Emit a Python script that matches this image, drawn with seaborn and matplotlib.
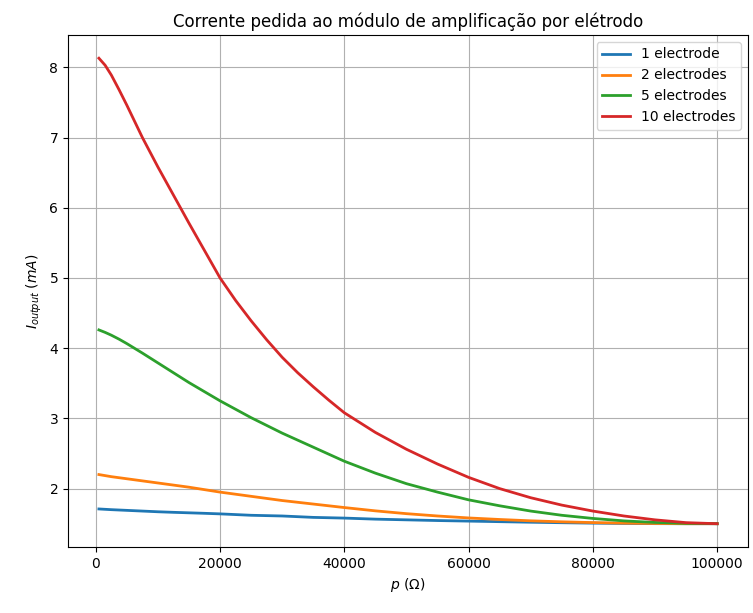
import matplotlib
matplotlib.use("Agg")
import matplotlib.pyplot as plt
import seaborn as sns
import pandas as pd

# Load resistance p (ohm)
p = [500, 1500, 2500, 3750, 5000, 7500, 10000, 12500, 15000, 17500, 20000, 22500, 25000,
     27500, 30000, 32500, 35000, 37500, 40000, 45000, 50000, 55000, 60000,
     65000, 70000, 75000, 80000, 85000, 90000, 95000, 100000]

# Output current (mA) per number of electrodes
i_1 = [1.71, 1.705, 1.70, 1.695, 1.69, 1.68, 1.67, 1.662, 1.655, 1.648, 1.64, 1.63, 1.62,
       1.615, 1.61, 1.60, 1.59, 1.585, 1.58, 1.565, 1.555, 1.545, 1.537,
       1.529, 1.521, 1.514, 1.508, 1.504, 1.501, 1.50, 1.50]
i_2 = [2.20, 2.185, 2.17, 2.155, 2.14, 2.11, 2.08, 2.05, 2.02, 1.985, 1.95, 1.92, 1.89,
       1.86, 1.83, 1.805, 1.78, 1.755, 1.73, 1.683, 1.643, 1.61, 1.582,
       1.56, 1.541, 1.527, 1.516, 1.508, 1.503, 1.50, 1.50]
i_5 = [4.26, 4.225, 4.185, 4.128, 4.065, 3.93, 3.79, 3.65, 3.51, 3.38, 3.25, 3.13, 3.01,
       2.90, 2.79, 2.69, 2.59, 2.49, 2.39, 2.22, 2.07, 1.95, 1.84,
       1.755, 1.68, 1.62, 1.575, 1.54, 1.518, 1.505, 1.50]
i_10 = [8.13, 8.03, 7.89, 7.68, 7.46, 7.00, 6.58, 6.18, 5.78, 5.39, 5.00, 4.68, 4.39,
        4.12, 3.87, 3.65, 3.45, 3.26, 3.08, 2.80, 2.56, 2.35, 2.16,
        2.00, 1.87, 1.765, 1.68, 1.61, 1.555, 1.515, 1.50]

labels = ["1 electrode", "2 electrodes", "5 electrodes", "10 electrodes"]
series = [i_1, i_2, i_5, i_10]

fig = plt.figure(figsize=(7.53, 6.13), dpi=100)
ax = fig.add_axes([0.0903, 0.1077, 0.9031, 0.8353])

palette = sns.color_palette("tab10")
for k, (lab, vals) in enumerate(zip(labels, series)):
    df = pd.DataFrame({"p": p, "I": vals})
    sns.lineplot(data=df, x="p", y="I", ax=ax, color=palette[k], label=lab,
                 linewidth=2)

ax.set_yticks([2, 3, 4, 5, 6, 7, 8])
ax.set_xticks([0, 20000, 40000, 60000, 80000, 100000])
ax.grid(True, color="#b0b0b0", linewidth=0.8)
ax.set_axisbelow(True)
ax.set_title("Corrente pedida ao módulo de amplificação por elétrodo", fontsize=12)
ax.set_xlabel(r"$p$ ($\Omega$)")
ax.set_ylabel(r"$I_{output}$ $(mA)$")
ax.legend(loc="upper right")

fig.savefig("out.png", dpi=100)
